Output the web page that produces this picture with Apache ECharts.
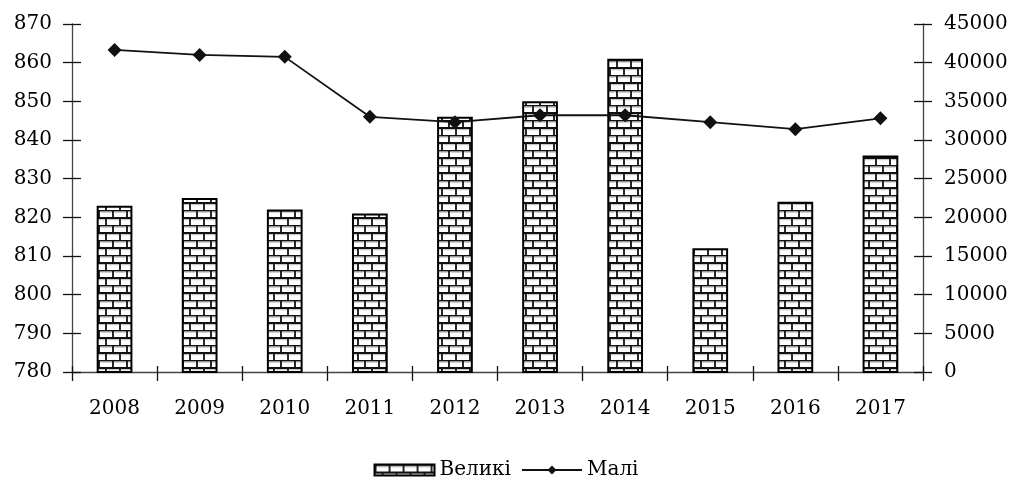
<!DOCTYPE html>
<html>
<head>
<meta charset="utf-8">
<script src="https://cdn.jsdelivr.net/npm/echarts@6/dist/echarts.min.js"></script>
<style>
  html, body { margin: 0; padding: 0; background: #fff; }
  #chart { width: 1012px; height: 479px; }
</style>
</head>
<body>
<div id="chart"></div>
<script>
// data
const years = ['2008', '2009', '2010', '2011', '2012', '2013', '2014', '2015', '2016', '2017'];
const velyki = [823, 825, 822, 821, 846, 850, 861, 812, 824, 836];          // left axis
const mali = [41650, 41000, 40750, 33000, 32300, 33200, 33200, 32300, 31400, 32800]; // right axis

// brick fill
function brickPattern() {
  const c = document.createElement('canvas');
  c.width = 14; c.height = 15;
  const g = c.getContext('2d');
  g.fillStyle = '#fff';
  g.fillRect(0, 0, 14, 15);
  g.strokeStyle = '#111';
  g.lineWidth = 1.8;
  g.beginPath();
  g.moveTo(0, 0.5); g.lineTo(14, 0.5);
  g.moveTo(0, 8); g.lineTo(14, 8);
  g.moveTo(1, 0); g.lineTo(1, 8);
  g.moveTo(8, 8); g.lineTo(8, 15);
  g.stroke();
  g.strokeStyle = '#bbb';
  g.lineWidth = 1;
  g.beginPath();
  g.moveTo(2.5, 2.2); g.lineTo(13.5, 2.2);
  g.moveTo(0, 9.7); g.lineTo(7, 9.7);
  g.moveTo(9.5, 9.7); g.lineTo(14, 9.7);
  g.stroke();
  return c;
}

const font = 'DejaVu Serif';
const labelStyle = { color: '#000', fontFamily: font, fontSize: 20 };
const axisLine = { show: true, lineStyle: { color: '#444', width: 1.3 } };
const tick = { show: true, length: 9, lineStyle: { color: '#111', width: 1.3 } };

const chart = echarts.init(document.getElementById('chart'), null, { renderer: 'canvas' });
chart.setOption({
  animation: false,
  backgroundColor: '#fff',
  grid: { left: 72, right: 89, top: 24, bottom: 107 },
  legend: {
    top: 455,
    left: 'center',
    itemWidth: 60,
    itemHeight: 11,
    itemGap: 10,
    textStyle: { color: '#000', fontFamily: font, fontSize: 20 },
    data: [{ name: 'Великі', icon: 'rect' }, { name: 'Малі' }]
  },
  xAxis: [
    {
      type: 'category', data: years, boundaryGap: true,
      axisLine: axisLine,
      axisTick: tick,
      axisLabel: Object.assign({ margin: 27 }, labelStyle)
    },
    {
      type: 'category', data: years, position: 'bottom',
      axisLine: { show: false },
      axisTick: { show: true, inside: true, length: 6, lineStyle: { color: '#111', width: 1.3 } },
      axisLabel: { show: false }
    }
  ],
  yAxis: [
    {
      type: 'value', min: 780, max: 870, interval: 10, position: 'left',
      axisLine: axisLine, axisTick: tick, splitLine: { show: false },
      axisLabel: Object.assign({ margin: 20 }, labelStyle)
    },
    {
      type: 'value', min: 0, max: 45000, interval: 5000, position: 'right',
      axisLine: axisLine, axisTick: tick, splitLine: { show: false },
      axisLabel: Object.assign({ margin: 21, formatter: v => String(v) }, labelStyle)
    },
    {
      type: 'value', min: 780, max: 870, interval: 10, position: 'left',
      axisLine: { show: false }, splitLine: { show: false }, axisLabel: { show: false },
      axisTick: { show: true, inside: true, length: 9, lineStyle: { color: '#111', width: 1.3 } }
    },
    {
      type: 'value', min: 0, max: 45000, interval: 5000, position: 'right',
      axisLine: { show: false }, splitLine: { show: false }, axisLabel: { show: false },
      axisTick: { show: true, inside: true, length: 9, lineStyle: { color: '#111', width: 1.3 } }
    }
  ],
  series: [
    {
      name: 'Великі',
      type: 'bar',
      yAxisIndex: 0,
      data: velyki,
      barWidth: '42%',
      itemStyle: {
        color: { image: brickPattern(), repeat: 'repeat' },
        borderColor: '#000',
        borderWidth: 2
      }
    },
    {
      name: 'Малі',
      type: 'line',
      yAxisIndex: 1,
      data: mali,
      symbol: 'diamond',
      symbolSize: 14,
      itemStyle: { color: '#111' },
      lineStyle: { color: '#111', width: 1.8 },
      z: 5
    }
  ]
});
</script>
</body>
</html>
